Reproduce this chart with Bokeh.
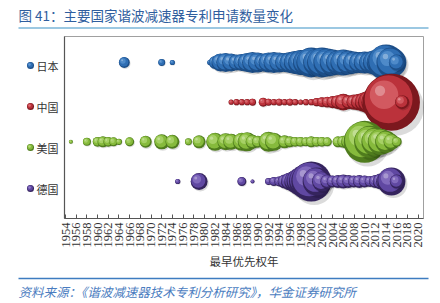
import math
from bokeh.plotting import figure
from bokeh.models import ColumnDataSource, Range1d, FixedTicker, LinearAxis
from bokeh.embed import file_html
from bokeh.resources import INLINE
from bokeh.core.properties import value

# ---------------- data ----------------
TITLE = "图 41：主要国家谐波减速器专利申请数量变化"
SOURCE = "资料来源：《谐波减速器技术专利分析研究》，华金证券研究所"
X_LABEL = "最早优先权年"
countries = ["日本", "中国", "美国", "德国"]

jp_years = [1965, 1972, 1974, 1981, 1982, 1983, 1984, 1985, 1986, 1987, 1988, 1989, 1990,
            1991, 1992, 1993, 1994, 1995, 1996, 1997, 1998, 1999, 2000, 2001, 2002, 2003,
            2004, 2005, 2006, 2007, 2008, 2009, 2010, 2011, 2012, 2013, 2014, 2015, 2016]
jp_counts = [22, 9, 5, 5, 31, 60, 67, 60, 47, 53, 67, 81, 74,
             60, 74, 81, 74, 67, 81, 98, 115, 125, 166, 135, 166, 145,
             125, 106, 125, 106, 89, 81, 89, 89, 115, 145, 239, 166, 47]

cn_years = [1985, 1986, 1987, 1988, 1989, 1991, 1992, 1993, 1994, 1995, 1996, 1997, 1998,
            1999, 2000, 2001, 2002, 2003, 2004, 2005, 2006, 2007, 2008, 2009, 2010, 2011,
            2012, 2013, 2014, 2015, 2017]
cn_counts = [5, 7, 7, 7, 9, 15, 9, 7, 9, 7, 9, 7, 5,
             7, 7, 12, 18, 22, 27, 36, 53, 36, 42, 53, 74, 106,
             145, 239, 391, 600, 36]

us_years = [1955, 1958, 1960, 1961, 1962, 1963, 1964, 1966, 1969, 1972, 1974, 1977, 1979,
            1982, 1984, 1985, 1987, 1988, 1989, 1990, 1992, 1993, 1995, 1996, 1997, 1998,
            1999, 2000, 2001, 2002, 2003, 2005, 2006, 2007, 2008, 2009, 2010, 2011, 2012,
            2013, 2014, 2015, 2016]
us_counts = [3, 12, 18, 22, 18, 15, 7, 15, 27, 42, 36, 9, 31,
             60, 53, 47, 60, 67, 36, 27, 74, 60, 31, 22, 18, 18,
             15, 22, 18, 18, 15, 22, 27, 42, 74, 145, 326, 189, 145,
             125, 89, 47, 18]

de_years = [1975, 1979, 1987, 1989, 1992, 1993, 1994, 1995, 1996, 1997, 1998, 1999, 2000,
            2001, 2002, 2003, 2004, 2005, 2006, 2007, 2008, 2009, 2010, 2011, 2012, 2013,
            2014, 2015, 2016]
de_counts = [5, 53, 15, 3, 9, 15, 18, 36, 60, 89, 145, 213, 296,
             145, 74, 36, 27, 31, 36, 31, 27, 31, 27, 22, 31, 47,
             74, 145, 36]

year_ticks = list(range(1954, 2021, 2))

# ---------------- geometry ----------------
W, H = 440, 303
FL, FR, FT, FB = 64, 423, 36, 218          # plot-area box in page pixels
FX0, FX1 = 1953.8, 2021.0                  # data extent of the plot area
FY0, FY1 = 0.067, 4.655
PX_X = (FR - FL) / (FX1 - FX0)
PX_Y = (FB - FT) / (FY1 - FY0)
XS, XE = FX0 - FL / PX_X, FX1 + (W - FR) / PX_X
YB, YT = FY0 - (H - FB) / PX_Y, FY1 + FT / PX_Y

DMAX = 57.0   # diameter (px) of the largest bubble
VMAX = 600.0

CJK = "Noto Sans CJK SC"

palettes = {
    "日本": dict(rim="#1c4e88", body="#2f6eb3", light="#5f99d6"),
    "中国": dict(rim="#7c181e", body="#bb323b", light="#de6f75"),
    "美国": dict(rim="#4f7c1d", body="#86ba3c", light="#b7db7b"),
    "德国": dict(rim="#35245e", body="#6048a2", light="#937dcb"),
}

LAYERS = [
    (1.00, 0.07, -0.09, "shadow", 0.14),
    (1.00, 0.00, 0.00, "rim", 1.0),
    (0.84, -0.05, 0.05, "body", 1.0),
    (0.50, -0.13, 0.13, "light", 0.65),
    (0.18, -0.20, 0.20, "spec", 0.3),
]

series = [
    ("日本", 4, jp_years, jp_counts),
    ("中国", 3, cn_years, cn_counts),
    ("美国", 2, us_years, us_counts),
    ("德国", 1, de_years, de_counts),
]

p = figure(width=W, height=H, x_range=Range1d(XS, XE), y_range=Range1d(YB, YT),
           output_backend="svg", toolbar_location=None, min_border=0,
           x_axis_location=None, y_axis_location=None, outline_line_color=None)
p.grid.visible = False
p.extra_x_ranges = {"px": Range1d(0, W)}
p.extra_y_ranges = {"py": Range1d(H, 0)}

# plot-area box
p.quad(left=[FX0], right=[FX1], bottom=[FY0], top=[FY1], fill_color=None,
       line_color="#a0a0a0", line_width=1)
p.segment(x0=[FX0, FX0], y0=[FY0, FY0], x1=[FX0, FX1], y1=[FY1, FY0],
          line_color="#555555", line_width=1.2)

# bubbles
for name, row, yrs, cnts in series:
    pal = dict(palettes[name], shadow="#000000", spec="#ffffff")
    xs, ys, ss, cs, al = [], [], [], [], []
    for yr, v in zip(yrs, cnts):
        d = DMAX * math.sqrt(v / VMAX)
        for sc, fx, fy, key, a in LAYERS:
            xs.append(yr + fx * d / PX_X)
            ys.append(row + fy * d / PX_Y)
            ss.append(sc * d)
            cs.append(pal[key])
            al.append(a)
    src = ColumnDataSource(dict(x=xs, y=ys, size=ss, color=cs, alpha=al))
    p.scatter("x", "y", size="size", fill_color="color", fill_alpha="alpha",
              line_color=None, source=src)

# x axis fixed at the bottom of the plot area
ax = LinearAxis(fixed_location=FY0)
ax.ticker = FixedTicker(ticks=year_ticks)
ax.major_label_orientation = math.pi / 2
ax.major_label_text_font = "Liberation Serif"
ax.major_label_text_font_size = "12.5px"
ax.major_label_text_color = "#333333"
ax.major_label_standoff = 4
ax.major_tick_in = 4
ax.major_tick_out = 0
ax.minor_tick_line_color = None
ax.axis_line_color = None
ax.major_tick_line_color = "#555555"
p.add_layout(ax, "below")

# axis title
p.text(x=[(FL + FR) / 2], y=[260], text=[X_LABEL], x_range_name="px", y_range_name="py",
       text_font=value(CJK), text_font_size="11.5px", text_color="#333333",
       text_align="center", text_baseline="middle")

# legend (country keys at the left)
leg_y = [65, 106, 147, 188]
for name, ly in zip(countries, leg_y):
    pal = palettes[name]
    p.scatter(x=[30], y=[ly], size=7, fill_color=pal["rim"], line_color=None,
              x_range_name="px", y_range_name="py")
    p.scatter(x=[29.6], y=[ly - 0.4], size=5.5, fill_color=pal["body"], line_color=None,
              x_range_name="px", y_range_name="py")
    p.scatter(x=[29.0], y=[ly - 1.0], size=2.5, fill_color=pal["light"], line_color=None,
              x_range_name="px", y_range_name="py")
p.text(x=[36] * 4, y=leg_y, text=countries, x_range_name="px", y_range_name="py",
       text_font=value(CJK), text_font_size="11px", text_color="#333333",
       text_align="left", text_baseline="middle")

# header
p.text(x=[18], y=[14], text=[TITLE], x_range_name="px", y_range_name="py",
       text_font=value(CJK), text_font_size="13.5px", text_color="#2f5e9e",
       text_align="left", text_baseline="middle")
p.segment(x0=[18], y0=[27.5], x1=[428], y1=[27.5], x_range_name="px", y_range_name="py",
          line_color="#9cc8e2", line_width=2)

# footer
p.segment(x0=[18], y0=[278], x1=[428], y1=[278], x_range_name="px", y_range_name="py",
          line_color="#3d7cc0", line_width=1.3)
p.text(x=[18], y=[290.5], text=[SOURCE], x_range_name="px", y_range_name="py",
       text_font=value(CJK), text_font_size="12.5px", text_font_style="italic",
       text_color="#4a7cc0", text_align="left", text_baseline="middle")

open("out.html", "w").write(file_html(p, INLINE))
